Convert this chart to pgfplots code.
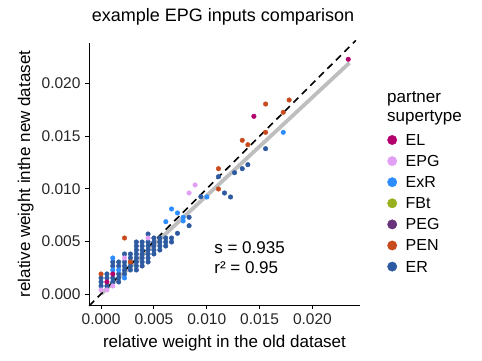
\documentclass[border=0pt]{standalone}
\usepackage{fontspec}
\setmainfont{Liberation Sans}
\usepackage{pgfplots}
\pgfplotsset{compat=1.18}
\definecolor{cEL}{RGB}{178,0,108}
\definecolor{cEPG}{RGB}{226,160,245}
\definecolor{cExR}{RGB}{45,140,255}
\definecolor{cFBt}{RGB}{150,176,30}
\definecolor{cPEG}{RGB}{105,50,125}
\definecolor{cPEN}{RGB}{200,75,30}
\definecolor{cER}{RGB}{45,90,160}
\definecolor{fitgray}{RGB}{190,190,190}
\begin{document}
\begin{tikzpicture}
\path[use as bounding box] (-89pt,-55pt) rectangle (393pt,305pt);
\begin{axis}[
  at={(0,0)}, anchor=south west,
  scale only axis, width=271pt, height=262pt,
  xmin=-0.00114, xmax=0.0245, ymin=-0.00105, ymax=0.02386,
  clip=false,
  axis x line*=bottom, axis y line*=left,
  axis line style={line width=0.8pt, -, black},
  tick align=outside, major tick length=4pt,
  tick style={line width=0.8pt, black},
  xtick={0,0.005,0.01,0.015,0.02}, ytick={0,0.005,0.01,0.015,0.02},
  scaled ticks=false,
  /pgf/number format/.cd, fixed, fixed zerofill, precision=3, assume math mode=true,
  /pgfplots/.cd,
  tick label style={font=\fontsize{15.5}{18}\selectfont, text=black!85},
  xticklabel style={anchor=north, yshift=-1pt},
  yticklabel style={anchor=east, xshift=-1pt},
  title={example EPG inputs comparison},
  title style={font=\fontsize{18}{20}\selectfont, at={(axis description cs:0.5,1)}, anchor=base, yshift=16pt, xshift=-1.5pt},
  xlabel={relative weight in the old dataset},
  xlabel style={font=\fontsize{17}{19}\selectfont, at={(axis description cs:0.5,0)}, anchor=base, yshift=-42pt},
  ylabel={relative weight inthe new dataset},
  ylabel style={font=\fontsize{17}{19}\selectfont, at={(axis description cs:-0.2177,0.5)}, anchor=base},
  legend cell align=left,
  legend image code/.code={\fill (4.7pt,1.5pt) circle (4.7pt);},
  legend style={at={(rel axis cs:1,0.6546)}, anchor=north west, xshift=27.3pt,
    draw=none, fill=none, inner sep=0pt, outer sep=0pt,
    font=\fontsize{16}{18}\selectfont, row sep=5.1pt,
    nodes={inner sep=0pt, text height=12pt, text depth=4pt},
    /tikz/every odd column/.append style={column sep=8.6pt}},
]
% ER
\addplot[only marks, mark=*, mark size=2.3pt, color=cER, forget plot] table {
x y
0 0.00076
0 0.00114
0 0.00152
0.000556 0.00076
0.000556 0.00152
0.000556 0.0019
0.00111 0.00114
0.00111 0.00152
0.00111 0.00266
0.00111 0.00304
0.00167 0.00114
0.00167 0.00152
0.00167 0.0019
0.00167 0.00266
0.00167 0.00304
0.00222 0.0019
0.00222 0.00228
0.00222 0.00266
0.00222 0.00304
0.00222 0.0038
0.00278 0.00228
0.00278 0.00266
0.00278 0.00304
0.00278 0.00342
0.00278 0.0038
0.00334 0.00228
0.00334 0.00266
0.00334 0.00304
0.00334 0.00342
0.00334 0.0038
0.00334 0.00418
0.00334 0.00456
0.00334 0.00494
0.00389 0.00266
0.00389 0.00304
0.00389 0.00342
0.00389 0.0038
0.00389 0.00418
0.00389 0.00456
0.00389 0.00494
0.00445 0.00304
0.00445 0.00342
0.00445 0.0038
0.00445 0.00418
0.00445 0.00456
0.00445 0.00494
0.00445 0.0057
0.0050 0.0038
0.0050 0.00418
0.0050 0.00456
0.0050 0.00494
0.0050 0.00532
0.00556 0.00418
0.00556 0.00456
0.00556 0.00494
0.00556 0.00532
0.00612 0.00456
0.00612 0.00494
0.00612 0.00532
0.00667 0.00494
0.00667 0.00532
0.00723 0.00577
0.00833 0.00729
0.00833 0.00649
0.00944 0.00925
0.01111 0.01115
0.01168 0.0096
0.01225 0.00922
0.01263 0.01153
0.01336 0.01191
0.01389 0.01229
0.01557 0.01381
};
% ExR
\addplot[only marks, mark=*, mark size=2.3pt, color=cExR, forget plot] table {
x y
0.00111 0.00342
0.00111 0.00228
0.00167 0.00228
0.00222 0.00152
0.00613 0.00687
0.00667 0.00808
0.00723 0.0077
0.00777 0.00729
0.00777 0.00694
0.01001 0.00922
0.01724 0.01537
};
% EPG
\addplot[only marks, mark=*, mark size=2.3pt, color=cEPG, forget plot] table {
x y
0 0.00038
0.000556 0.00038
0.00111 0.00076
0.00222 0.00342
0.00445 0.00532
0.00833 0.0096
0.0089 0.01036
};
% PEN
\addplot[only marks, mark=*, mark size=2.3pt, color=cPEN, forget plot] table {
x y
0 0.0019
0.00222 0.00532
0.00278 0.00304
0.01111 0.01191
0.01111 0.00998
0.01336 0.01461
0.01389 0.01419
0.01557 0.01537
0.01724 0.01727
0.01557 0.01806
0.0178 0.01844
};
% EL
\addplot[only marks, mark=*, mark size=2.3pt, color=cEL, forget plot] table {
x y
0.000556 0.00114
0.00111 0.0019
0.01446 0.01689
0.02339 0.02231
};
% fit line
\addplot[fitgray, line width=3.8pt, forget plot] coordinates {(0,0) (0.0235,0.0219725)};
% identity line
\addplot[black, line width=1.6pt, dash pattern=on 7pt off 5pt, forget plot] coordinates {(-0.00112,-0.00112) (0.0241,0.0241)};
% legend
\addlegendimage{color=cEL}\addlegendentry{EL}
\addlegendimage{color=cEPG}\addlegendentry{EPG}
\addlegendimage{color=cExR}\addlegendentry{ExR}
\addlegendimage{color=cFBt}\addlegendentry{FBt}
\addlegendimage{color=cPEG}\addlegendentry{PEG}
\addlegendimage{color=cPEN}\addlegendentry{PEN}
\addlegendimage{color=cER}\addlegendentry{ER}
\node[anchor=base west, inner sep=0pt, font=\fontsize{17}{19}\selectfont] at (rel axis cs:1,1) [xshift=27pt, yshift=-59.5pt] {partner};
\node[anchor=base west, inner sep=0pt, font=\fontsize{17}{19}\selectfont] at (rel axis cs:1,1) [xshift=27pt, yshift=-78.8pt] {supertype};
\node[anchor=west, inner sep=0pt, font=\fontsize{17}{19}\selectfont] at (axis cs:0.0107,0.00444) {s = 0.935};
\node[anchor=west, inner sep=0pt, font=\fontsize{17}{19}\selectfont] at (axis cs:0.0107,0.00254) {r² = 0.95};
\end{axis}
\end{tikzpicture}
\end{document}
